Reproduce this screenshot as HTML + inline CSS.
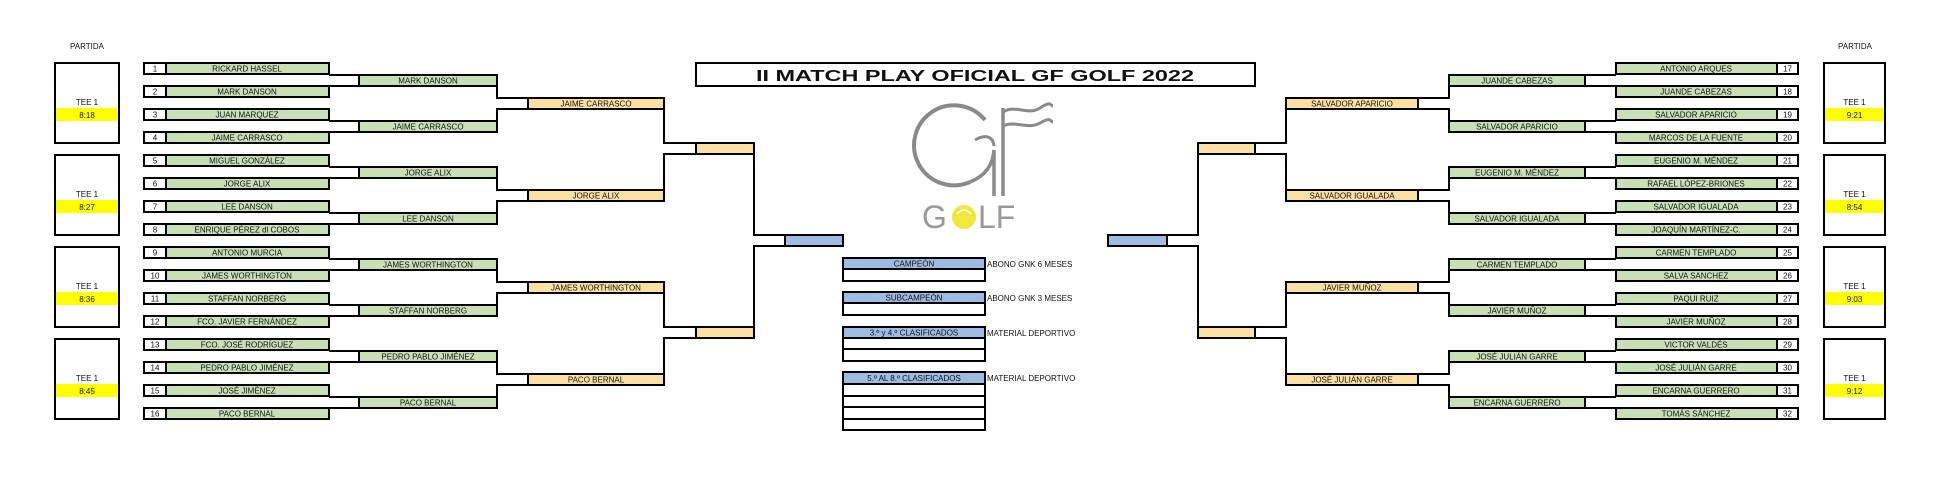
<!DOCTYPE html>
<html><head><meta charset="utf-8"><style>
html,body{margin:0;padding:0;background:#fff;}
svg{display:block;}
text{font-family:"Liberation Sans",sans-serif;font-size:8px;fill:#111;text-anchor:middle;}
.g{fill:#c9dfb6;stroke:#000;stroke-width:2;}
.w{fill:#fff;stroke:#000;stroke-width:2;}
.o{fill:#fbe0a2;stroke:#000;stroke-width:2;}
.b{fill:#9dbbe3;stroke:#000;stroke-width:2;}
.l{fill:none;stroke:#000;stroke-width:2;}
.lt{text-anchor:start;}
</style></head><body>
<svg width="1942" height="481" viewBox="0 0 1942 481" xmlns="http://www.w3.org/2000/svg">
<text x="87" y="49">PARTIDA</text>
<text x="1855" y="49">PARTIDA</text>
<g>
<rect class="w" x="55" y="63" width="64" height="80"/><rect x="56" y="108" width="62" height="13" fill="#ffff00"/><text x="87" y="105">TEE 1</text><text x="87" y="118">8:18</text>
<rect class="w" x="55" y="155" width="64" height="80"/><rect x="56" y="200" width="62" height="13" fill="#ffff00"/><text x="87" y="197">TEE 1</text><text x="87" y="210">8:27</text>
<rect class="w" x="55" y="247" width="64" height="80"/><rect x="56" y="292" width="62" height="13" fill="#ffff00"/><text x="87" y="289">TEE 1</text><text x="87" y="302">8:36</text>
<rect class="w" x="55" y="339" width="64" height="80"/><rect x="56" y="384" width="62" height="13" fill="#ffff00"/><text x="87" y="381">TEE 1</text><text x="87" y="394">8:45</text>
<rect class="w" x="1824" y="63" width="61" height="80"/><rect x="1825" y="108" width="59" height="13" fill="#ffff00"/><text x="1854.5" y="105">TEE 1</text><text x="1854.5" y="118">9:21</text>
<rect class="w" x="1824" y="155" width="61" height="80"/><rect x="1825" y="200" width="59" height="13" fill="#ffff00"/><text x="1854.5" y="197">TEE 1</text><text x="1854.5" y="210">8:54</text>
<rect class="w" x="1824" y="247" width="61" height="80"/><rect x="1825" y="292" width="59" height="13" fill="#ffff00"/><text x="1854.5" y="289">TEE 1</text><text x="1854.5" y="302">9:03</text>
<rect class="w" x="1824" y="339" width="61" height="80"/><rect x="1825" y="384" width="59" height="13" fill="#ffff00"/><text x="1854.5" y="381">TEE 1</text><text x="1854.5" y="394">9:12</text>
</g>

<path class="l" d="
M329 75H359 M329 86H359 M329 121H359 M329 132H359 M329 167H359 M329 178H359 M329 213H359 M329 224H359
M329 259H359 M329 270H359 M329 305H359 M329 316H359 M329 351H359 M329 362H359 M329 397H359 M329 408H359
M497 86V98H528 M528 109H497V121
M497 178V190H528 M528 201H497V213
M497 270V282H528 M528 293H497V305
M497 362V374H528 M528 385H497V397
M664 109V143H696 M696 154H664V190
M664 293V327H696 M696 338H664V374
M754 154V235H785 M785 246H754V327
"/>
<path class="l" d="
M1616 75H1585 M1616 86H1585 M1616 121H1585 M1616 132H1585 M1616 167H1585 M1616 178H1585 M1616 213H1585 M1616 224H1585
M1616 259H1585 M1616 270H1585 M1616 305H1585 M1616 316H1585 M1616 351H1585 M1616 362H1585 M1616 397H1585 M1616 408H1585
M1449 86V98H1418 M1418 109H1449V121
M1449 178V190H1418 M1418 201H1449V213
M1449 270V282H1418 M1418 293H1449V305
M1449 362V374H1418 M1418 385H1449V397
M1286 109V143H1255 M1255 154H1286V190
M1286 293V327H1255 M1255 338H1286V374
M1198 154V235H1167 M1167 246H1198V327
"/>

<g>
<rect class="w" x="144" y="63" width="22" height="11"/><rect class="g" x="166" y="63" width="163" height="11"/><text x="155" y="71.5">1</text><text x="247" y="71.5">RICKARD HASSEL</text>
<rect class="w" x="144" y="86" width="22" height="11"/><rect class="g" x="166" y="86" width="163" height="11"/><text x="155" y="94.5">2</text><text x="247" y="94.5">MARK DANSON</text>
<rect class="w" x="144" y="109" width="22" height="11"/><rect class="g" x="166" y="109" width="163" height="11"/><text x="155" y="117.5">3</text><text x="247" y="117.5">JUAN MARQUEZ</text>
<rect class="w" x="144" y="132" width="22" height="11"/><rect class="g" x="166" y="132" width="163" height="11"/><text x="155" y="140.5">4</text><text x="247" y="140.5">JAIME CARRASCO</text>
<rect class="w" x="144" y="155" width="22" height="11"/><rect class="g" x="166" y="155" width="163" height="11"/><text x="155" y="163.5">5</text><text x="247" y="163.5">MIGUEL GONZÁLEZ</text>
<rect class="w" x="144" y="178" width="22" height="11"/><rect class="g" x="166" y="178" width="163" height="11"/><text x="155" y="186.5">6</text><text x="247" y="186.5">JORGE ALIX</text>
<rect class="w" x="144" y="201" width="22" height="11"/><rect class="g" x="166" y="201" width="163" height="11"/><text x="155" y="209.5">7</text><text x="247" y="209.5">LEE DANSON</text>
<rect class="w" x="144" y="224" width="22" height="11"/><rect class="g" x="166" y="224" width="163" height="11"/><text x="155" y="232.5">8</text><text x="247" y="232.5">ENRIQUE PÉREZ dl COBOS</text>
<rect class="w" x="144" y="247" width="22" height="11"/><rect class="g" x="166" y="247" width="163" height="11"/><text x="155" y="255.5">9</text><text x="247" y="255.5">ANTONIO MURCIA</text>
<rect class="w" x="144" y="270" width="22" height="11"/><rect class="g" x="166" y="270" width="163" height="11"/><text x="155" y="278.5">10</text><text x="247" y="278.5">JAMES WORTHINGTON</text>
<rect class="w" x="144" y="293" width="22" height="11"/><rect class="g" x="166" y="293" width="163" height="11"/><text x="155" y="301.5">11</text><text x="247" y="301.5">STAFFAN NORBERG</text>
<rect class="w" x="144" y="316" width="22" height="11"/><rect class="g" x="166" y="316" width="163" height="11"/><text x="155" y="324.5">12</text><text x="247" y="324.5">FCO. JAVIER FERNÁNDEZ</text>
<rect class="w" x="144" y="339" width="22" height="11"/><rect class="g" x="166" y="339" width="163" height="11"/><text x="155" y="347.5">13</text><text x="247" y="347.5">FCO. JOSÉ RODRÍGUEZ</text>
<rect class="w" x="144" y="362" width="22" height="11"/><rect class="g" x="166" y="362" width="163" height="11"/><text x="155" y="370.5">14</text><text x="247" y="370.5">PEDRO PABLO JIMÉNEZ</text>
<rect class="w" x="144" y="385" width="22" height="11"/><rect class="g" x="166" y="385" width="163" height="11"/><text x="155" y="393.5">15</text><text x="247" y="393.5">JOSÉ JIMÉNEZ</text>
<rect class="w" x="144" y="408" width="22" height="11"/><rect class="g" x="166" y="408" width="163" height="11"/><text x="155" y="416.5">16</text><text x="247" y="416.5">PACO BERNAL</text>
</g>
<g>
<rect class="g" x="359" y="75" width="138" height="11"/><text x="428" y="83.5">MARK DANSON</text>
<rect class="g" x="359" y="121" width="138" height="11"/><text x="428" y="129.5">JAIME CARRASCO</text>
<rect class="g" x="359" y="167" width="138" height="11"/><text x="428" y="175.5">JORGE ALIX</text>
<rect class="g" x="359" y="213" width="138" height="11"/><text x="428" y="221.5">LEE DANSON</text>
<rect class="g" x="359" y="259" width="138" height="11"/><text x="428" y="267.5">JAMES WORTHINGTON</text>
<rect class="g" x="359" y="305" width="138" height="11"/><text x="428" y="313.5">STAFFAN NORBERG</text>
<rect class="g" x="359" y="351" width="138" height="11"/><text x="428" y="359.5">PEDRO PABLO JIMÉNEZ</text>
<rect class="g" x="359" y="397" width="138" height="11"/><text x="428" y="405.5">PACO BERNAL</text>
</g>
<g>
<rect class="o" x="528" y="98" width="136" height="11"/><text x="596" y="106.5">JAIME CARRASCO</text>
<rect class="o" x="528" y="190" width="136" height="11"/><text x="596" y="198.5">JORGE ALIX</text>
<rect class="o" x="528" y="282" width="136" height="11"/><text x="596" y="290.5">JAMES WORTHINGTON</text>
<rect class="o" x="528" y="374" width="136" height="11"/><text x="596" y="382.5">PACO BERNAL</text>
<rect class="o" x="696" y="143" width="58" height="11"/>
<rect class="o" x="696" y="327" width="58" height="11"/>
<rect class="b" x="785" y="235" width="58" height="11"/>
</g>

<g>
<rect class="w" x="1777" y="63" width="21" height="11"/><rect class="g" x="1616" y="63" width="161" height="11"/><text x="1787.5" y="71.5">17</text><text x="1696" y="71.5">ANTONIO ARQUES</text>
<rect class="w" x="1777" y="86" width="21" height="11"/><rect class="g" x="1616" y="86" width="161" height="11"/><text x="1787.5" y="94.5">18</text><text x="1696" y="94.5">JUANDE CABEZAS</text>
<rect class="w" x="1777" y="109" width="21" height="11"/><rect class="g" x="1616" y="109" width="161" height="11"/><text x="1787.5" y="117.5">19</text><text x="1696" y="117.5">SALVADOR APARICIO</text>
<rect class="w" x="1777" y="132" width="21" height="11"/><rect class="g" x="1616" y="132" width="161" height="11"/><text x="1787.5" y="140.5">20</text><text x="1696" y="140.5">MARCOS DE LA FUENTE</text>
<rect class="w" x="1777" y="155" width="21" height="11"/><rect class="g" x="1616" y="155" width="161" height="11"/><text x="1787.5" y="163.5">21</text><text x="1696" y="163.5">EUGENIO M. MÉNDEZ</text>
<rect class="w" x="1777" y="178" width="21" height="11"/><rect class="g" x="1616" y="178" width="161" height="11"/><text x="1787.5" y="186.5">22</text><text x="1696" y="186.5">RAFAEL LÓPEZ-BRIONES</text>
<rect class="w" x="1777" y="201" width="21" height="11"/><rect class="g" x="1616" y="201" width="161" height="11"/><text x="1787.5" y="209.5">23</text><text x="1696" y="209.5">SALVADOR IGUALADA</text>
<rect class="w" x="1777" y="224" width="21" height="11"/><rect class="g" x="1616" y="224" width="161" height="11"/><text x="1787.5" y="232.5">24</text><text x="1696" y="232.5">JOAQUÍN MARTÍNEZ-C.</text>
<rect class="w" x="1777" y="247" width="21" height="11"/><rect class="g" x="1616" y="247" width="161" height="11"/><text x="1787.5" y="255.5">25</text><text x="1696" y="255.5">CARMEN TEMPLADO</text>
<rect class="w" x="1777" y="270" width="21" height="11"/><rect class="g" x="1616" y="270" width="161" height="11"/><text x="1787.5" y="278.5">26</text><text x="1696" y="278.5">SALVA SANCHEZ</text>
<rect class="w" x="1777" y="293" width="21" height="11"/><rect class="g" x="1616" y="293" width="161" height="11"/><text x="1787.5" y="301.5">27</text><text x="1696" y="301.5">PAQUI RUIZ</text>
<rect class="w" x="1777" y="316" width="21" height="11"/><rect class="g" x="1616" y="316" width="161" height="11"/><text x="1787.5" y="324.5">28</text><text x="1696" y="324.5">JAVIER MUÑOZ</text>
<rect class="w" x="1777" y="339" width="21" height="11"/><rect class="g" x="1616" y="339" width="161" height="11"/><text x="1787.5" y="347.5">29</text><text x="1696" y="347.5">VICTOR VALDÉS</text>
<rect class="w" x="1777" y="362" width="21" height="11"/><rect class="g" x="1616" y="362" width="161" height="11"/><text x="1787.5" y="370.5">30</text><text x="1696" y="370.5">JOSÉ JULIÁN GARRE</text>
<rect class="w" x="1777" y="385" width="21" height="11"/><rect class="g" x="1616" y="385" width="161" height="11"/><text x="1787.5" y="393.5">31</text><text x="1696" y="393.5">ENCARNA GUERRERO</text>
<rect class="w" x="1777" y="408" width="21" height="11"/><rect class="g" x="1616" y="408" width="161" height="11"/><text x="1787.5" y="416.5">32</text><text x="1696" y="416.5">TOMÁS SÁNCHEZ</text>
</g>
<g>
<rect class="g" x="1449" y="75" width="136" height="11"/><text x="1517" y="83.5">JUANDE CABEZAS</text>
<rect class="g" x="1449" y="121" width="136" height="11"/><text x="1517" y="129.5">SALVADOR APARICIO</text>
<rect class="g" x="1449" y="167" width="136" height="11"/><text x="1517" y="175.5">EUGENIO M. MÉNDEZ</text>
<rect class="g" x="1449" y="213" width="136" height="11"/><text x="1517" y="221.5">SALVADOR IGUALADA</text>
<rect class="g" x="1449" y="259" width="136" height="11"/><text x="1517" y="267.5">CARMEN TEMPLADO</text>
<rect class="g" x="1449" y="305" width="136" height="11"/><text x="1517" y="313.5">JAVIER MUÑOZ</text>
<rect class="g" x="1449" y="351" width="136" height="11"/><text x="1517" y="359.5">JOSÉ JULIÁN GARRE</text>
<rect class="g" x="1449" y="397" width="136" height="11"/><text x="1517" y="405.5">ENCARNA GUERRERO</text>
</g>
<g>
<rect class="o" x="1286" y="98" width="132" height="11"/><text x="1352" y="106.5">SALVADOR APARICIO</text>
<rect class="o" x="1286" y="190" width="132" height="11"/><text x="1352" y="198.5">SALVADOR IGUALADA</text>
<rect class="o" x="1286" y="282" width="132" height="11"/><text x="1352" y="290.5">JAVIER MUÑOZ</text>
<rect class="o" x="1286" y="374" width="132" height="11"/><text x="1352" y="382.5">JOSÉ JULIÁN GARRE</text>
<rect class="o" x="1198" y="143" width="57" height="11"/>
<rect class="o" x="1198" y="327" width="57" height="11"/>
<rect class="b" x="1108" y="235" width="59" height="11"/>
</g>

<rect class="w" x="696" y="63" width="559" height="23"/>
<text x="975" y="81" style="font-size:16px;font-weight:bold;" textLength="438" lengthAdjust="spacingAndGlyphs">II MATCH PLAY OFICIAL GF GOLF 2022</text>

<g fill="none" stroke="#8a8a8a">
<path d="M985 120 A40 40 0 1 0 970 182" stroke-width="4"/>
<path d="M970 182 C985 176 993 165 994 150 L994 196" stroke-width="3.5"/>
<path d="M975 140 C985 134 993 136 994 146" stroke-width="3"/>
<path d="M1003 108 L1003 196" stroke-width="3.5"/>
<path d="M1003 112 C1015 104 1028 116 1040 108 S1050 106 1053 106" stroke-width="3"/>
<path d="M1003 126 C1015 120 1028 130 1040 123 S1050 122 1053 122" stroke-width="3"/>
</g>
<text x="922" y="228" style="font-size:32px;fill:#999;text-anchor:start;">G</text>
<circle cx="964" cy="217" r="12" fill="#f2e83c"/>
<path d="M957 214 Q964 206 971 214" fill="none" stroke="#fff" stroke-width="1.5"/>
<text x="978" y="228" style="font-size:32px;fill:#999;text-anchor:start;">LF</text>

<g>
<rect class="w" x="843" y="258" width="142" height="23"/><rect class="b" x="843" y="258" width="142" height="11"/><text x="914" y="266.5">CAMPEÓN</text>
<text class="lt" x="987" y="267">ABONO GNK 6 MESES</text>
<rect class="w" x="843" y="292" width="142" height="23"/><rect class="b" x="843" y="292" width="142" height="11"/><text x="914" y="300.5">SUBCAMPEÓN</text>
<text class="lt" x="987" y="301">ABONO GNK 3 MESES</text>
<rect class="w" x="843" y="327" width="142" height="34"/><rect class="b" x="843" y="327" width="142" height="11"/><path class="l" d="M843 349H985"/><text x="914" y="335.5">3.º y 4.º CLASIFICADOS</text>
<text class="lt" x="987" y="336">MATERIAL DEPORTIVO</text>
<rect class="w" x="843" y="372" width="142" height="58"/><rect class="b" x="843" y="372" width="142" height="12"/><path class="l" d="M843 396H985M843 407H985M843 419H985"/><text x="914" y="381">5.º AL 8.º CLASIFICADOS</text>
<text class="lt" x="987" y="381">MATERIAL DEPORTIVO</text>
</g>
</svg>
</body></html>
